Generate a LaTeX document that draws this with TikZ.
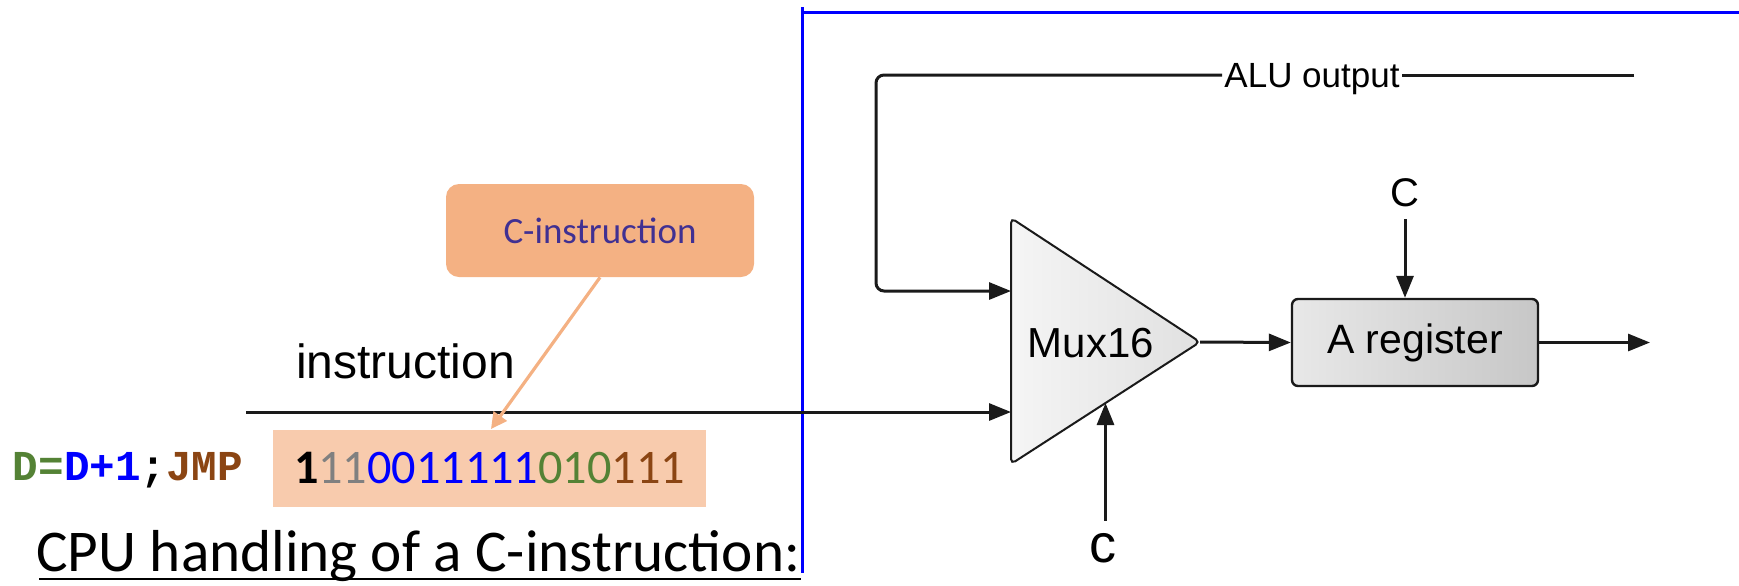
\documentclass[tikz,border=0pt]{standalone}
\usepackage{fontspec}
\setmainfont{Liberation Sans}
\newfontfamily\slidefont{Carlito}
\newfontfamily\codefont{Liberation Mono}
\usetikzlibrary{calc,arrows.meta}
\definecolor{tagorange}{HTML}{F4B183}
\definecolor{bitspeach}{HTML}{F8CBAD}
\definecolor{tagpurple}{HTML}{403092}
\definecolor{bitgrey}{HTML}{808080}
\definecolor{bitblue}{HTML}{0000FF}
\definecolor{bitgreen}{HTML}{548235}
\definecolor{bitbrown}{HTML}{8B4513}
\definecolor{wireblack}{HTML}{1A1A1A}
\tikzset{
  wire/.style={draw=wireblack,line width=1.5pt},
  sig/.style={wire,-{Triangle[length=11pt,width=8.5pt]}},
  ctrl/.style={inner sep=6pt},
  muxbody/.style={draw=wireblack,line width=1pt,rounded corners=2.5pt,
    left color=black!4,right color=black!12},
  regbox/.style={draw=wireblack,line width=1.2pt,rounded corners=3pt,
    left color=black!9,right color=black!22,
    minimum width=123pt,minimum height=43.5pt,font=\fontsize{20.5}{24}\selectfont},
  tagbox/.style={fill=tagorange,rounded corners=6.5pt,
    minimum width=154pt,minimum height=46.5pt,text=tagpurple,
    font=\slidefont\fontsize{18.5}{22}\selectfont},
  bitsbox/.style={fill=bitspeach,minimum width=216.5pt,minimum height=38.5pt,
    font=\slidefont\fontsize{24.1}{28}\selectfont},
  pointer/.style={draw=tagorange,line width=1.6pt,-{Triangle[length=8pt,width=8pt]}}
}

\begin{document}
\begin{tikzpicture}[x=0.5pt,y=-0.5pt]
  \path[use as bounding box] (0,0) rectangle (1739,585);
  % frame around the datapath
  \draw[blue,line width=1.5pt] (802,7) -- (802,573);
  \draw[blue,line width=1.5pt] (802,12) -- (1739,12);

  % Mux16
  \coordinate (muxtop) at (1011,218);
  \coordinate (muxbot) at (1011,464);
  \coordinate (muxtip) at (1200,342);
  \path[muxbody] (muxtop) -- (muxtip) -- (muxbot) -- cycle;
  \node[anchor=base,font=\fontsize{21}{25}\selectfont] (mux) at (1091,357) {Mux16};
  \coordinate (muxin1) at (1011,291);
  \coordinate (muxin2) at (1011,412);
  \coordinate (muxsel) at ($(muxbot)!0.5!(muxtip)$);

  % A register and its output
  \node[regbox] (areg) at (1415,342.5) {A register};
  \draw[sig] (muxtip) -- (areg.west);
  \coordinate (aout) at (1650,342.5);
  \draw[sig] (areg.east) -- (aout);

  % control bits
  \node[ctrl,font=\fontsize{20}{24}\selectfont] (cload) at (1405,192.5) {C};
  \draw[sig] (cload.south) -- (cload.south |- areg.north);
  \node[ctrl,font=\fontsize{27}{30}\selectfont] (csel) at (1102.5,548) {c};
  \draw[sig] (csel.north -| muxsel) -- (muxsel);

  % ALU output fed back into the mux
  \node[anchor=base,inner sep=1pt,font=\fontsize{17.5}{21}\selectfont] (alu) at (1312,87) {ALU output};
  \coordinate (aluend) at (1634,75);
  \draw[wire] (aluend) -- (aluend -| alu.east);
  \draw[sig,rounded corners=4pt] (aluend -| alu.west) -- (876,75) -- (876,291) -- (muxin1);

  % instruction input
  \coordinate (instrin) at (246,412);
  \draw[sig] (instrin) -- (muxin2);
  \node[anchor=base west,font=\fontsize{24}{28}\selectfont] (instr) at (289,378) {instruction};

  % the instruction word
  \node[bitsbox] (bits) at (489.5,468.5)
    {\textbf{1}\textcolor{bitgrey}{11}\textcolor{bitblue}{0011111}\textcolor{bitgreen}{010}\textcolor{bitbrown}{111}};
  \node[anchor=base,font=\codefont\bfseries\fontsize{21.3}{25}\selectfont] (asm) at (128,480)
    {\textcolor{bitgreen}{D=}\textcolor{bitblue}{D+1}\textcolor{black}{;}\textcolor{bitbrown}{JMP}};

  % callout
  \node[tagbox] (ctag) at (600,230.5) {C-instruction};
  \coordinate (bitstip) at (491,429);
  \draw[pointer] (ctag.south) -- (bitstip);

  % heading
  \node[anchor=base west,inner sep=0pt,font=\slidefont\fontsize{29.6}{34}\selectfont] (title) at (36,571)
    {CPU handling of a C-instruction:};
  \draw[line width=1pt] ($(title.base west)+(3,8)$) -- ($(title.base east)+(0,8)$);
\end{tikzpicture}
\end{document}
